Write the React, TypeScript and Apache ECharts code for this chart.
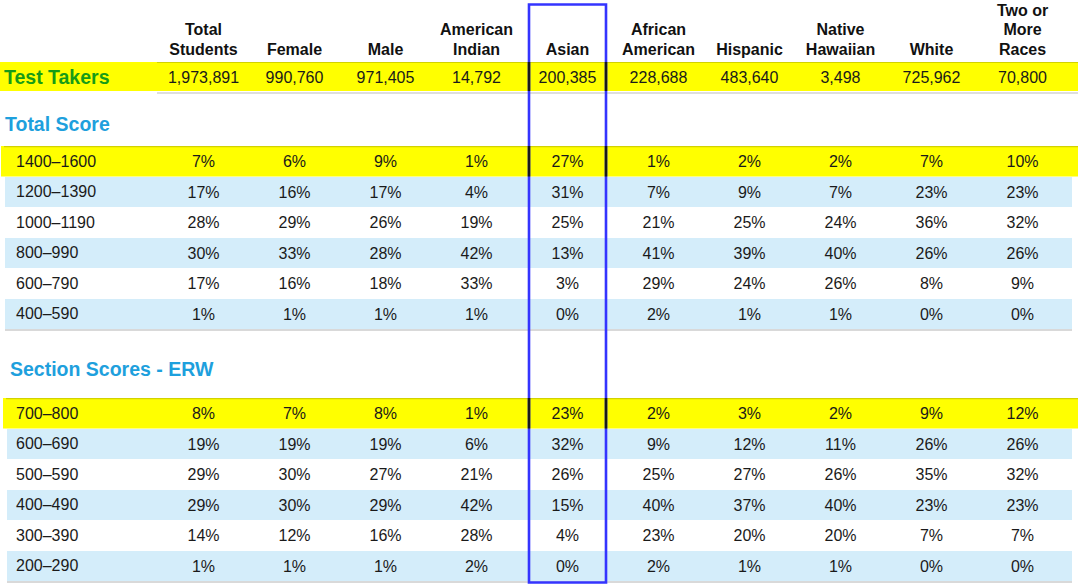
import React, { useEffect, useRef } from "react";
import * as echarts from "echarts";

// ---------- data ----------
const columns = [
  "Total\nStudents",
  "Female",
  "Male",
  "American\nIndian",
  "Asian",
  "African\nAmerican",
  "Hispanic",
  "Native\nHawaiian",
  "White",
  "Two or\nMore\nRaces",
];
const testTakersLabel = "Test Takers";
const testTakers = [1973891, 990760, 971405, 14792, 200385, 228688, 483640, 3498, 725962, 70800];

const totalScoreTitle = "Total Score";
const totalScoreBands = ["1400–1600", "1200–1390", "1000–1190", "800–990", "600–790", "400–590"];
const totalScorePct = [
  [7, 6, 9, 1, 27, 1, 2, 2, 7, 10],
  [17, 16, 17, 4, 31, 7, 9, 7, 23, 23],
  [28, 29, 26, 19, 25, 21, 25, 24, 36, 32],
  [30, 33, 28, 42, 13, 41, 39, 40, 26, 26],
  [17, 16, 18, 33, 3, 29, 24, 26, 8, 9],
  [1, 1, 1, 1, 0, 2, 1, 1, 0, 0],
];

const erwTitle = "Section Scores - ERW";
const erwBands = ["700–800", "600–690", "500–590", "400–490", "300–390", "200–290"];
const erwPct = [
  [8, 7, 8, 1, 23, 2, 3, 2, 9, 12],
  [19, 19, 19, 6, 32, 9, 12, 11, 26, 26],
  [29, 30, 27, 21, 26, 25, 27, 26, 35, 32],
  [29, 30, 29, 42, 15, 40, 37, 40, 23, 23],
  [14, 12, 16, 28, 4, 23, 20, 20, 7, 7],
  [1, 1, 1, 2, 0, 2, 1, 1, 0, 0],
];
const highlightColumn = "Asian";

// ---------- styles ----------
const FONT = '"Liberation Sans", Arial, Helvetica, sans-serif';
const YELLOW = "#ffff00";
const LIGHTBLUE = "#d4edfa";
const GREEN = "#179c17";
const TITLEBLUE = "#1ea0dd";
const TEXT = "#1a1a1a";
const GRID_LEFT = 158;
const GRID_WIDTH = 910;
const ROW_H = 30.5;
const G0_TOP = 62;
const G0_H = 29;
const G1_TOP = 146;
const G2_TOP = 398;

function bgSeries(gridIndex: number, n: number, isTakers: boolean) {
  return {
    type: "custom",
    xAxisIndex: gridIndex,
    yAxisIndex: gridIndex,
    silent: true,
    data: Array.from({ length: n }, (_, i) => [0, i]),
    encode: { x: 0, y: 1 },
    z: 1,
    renderItem: (params: any, api: any) => {
      const i = api.value(1);
      const cs = params.coordSys;
      const h = cs.height / n;
      const top = cs.y + i * h;
      const children: any[] = [];
      if (isTakers) {
        children.push({
          type: "rect",
          shape: { x: 0, y: top, width: cs.x + cs.width + 10, height: h },
          style: { fill: YELLOW },
        });
        children.push({
          type: "line",
          shape: { x1: cs.x - 1, y1: top + 0.5, x2: cs.x + cs.width + 10, y2: top + 0.5 },
          style: { stroke: "#d2d200", lineWidth: 1.2 },
        });
        children.push({
          type: "line",
          shape: { x1: cs.x - 1, y1: top + h + 2, x2: cs.x + cs.width + 10, y2: top + h + 2 },
          style: { stroke: "#dedede", lineWidth: 2 },
        });
        return { type: "group", children };
      }
      const lx = gridIndex === 1 ? 1 : 3;
      if (i === 0) {
        children.push({
          type: "rect",
          shape: { x: lx, y: top, width: cs.x + cs.width + 10 - lx, height: h },
          style: { fill: YELLOW },
        });
        children.push({
          type: "line",
          shape: { x1: lx + 3, y1: top + 0.6, x2: cs.x + cs.width + 10, y2: top + 0.6 },
          style: { stroke: "#d2d200", lineWidth: 1.2 },
        });
      } else if (i % 2 === 1) {
        children.push({
          type: "rect",
          shape: { x: lx + 4, y: top + 0.5, width: cs.x + cs.width + 4 - (lx + 4), height: h - 0.5 },
          style: { fill: LIGHTBLUE },
        });
      }
      if (i === n - 1) {
        children.push({
          type: "line",
          shape: { x1: lx + 4, y1: top + h + 1, x2: cs.x + cs.width + 4, y2: top + h + 1 },
          style: { stroke: "#d9d9d9", lineWidth: 2 },
        });
      }
      return { type: "group", children };
    },
  };
}

function textSeries(gridIndex: number, texts: string[][]) {
  const data: number[][] = [];
  const flat: string[] = [];
  texts.forEach((row, r) =>
    row.forEach((t, c) => {
      data.push([c, r]);
      flat.push(t);
    })
  );
  return {
    type: "custom",
    xAxisIndex: gridIndex,
    yAxisIndex: gridIndex,
    silent: true,
    z: 5,
    data,
    encode: { x: 0, y: 1 },
    renderItem: (params: any, api: any) => {
      const p = api.coord([api.value(0), api.value(1)]);
      return {
        type: "text",
        style: {
          text: flat[params.dataIndex],
          x: p[0],
          y: p[1] + 0.5,
          align: "center",
          verticalAlign: "middle",
          fontFamily: FONT,
          fontSize: 16,
          fill: TEXT,
        },
      };
    },
  };
}

const pct = (rows: number[][]) => rows.map((r) => r.map((v) => `${v}%`));

export default function App() {
  const ref = useRef<HTMLDivElement>(null);
  useEffect(() => {
    const chart = echarts.init(ref.current!, null, { renderer: "svg" });
    const hiddenX = (i: number) => ({
      type: "category",
      gridIndex: i,
      data: columns,
      show: false,
    });
    const yAx = (i: number, data: string[], label: any) => ({
      type: "category",
      gridIndex: i,
      data,
      inverse: true,
      z: 20,
      axisLine: { show: false },
      axisTick: { show: false },
      splitLine: { show: false },
      axisLabel: { align: "left", interval: 0, fontFamily: FONT, ...label },
    });
    chart.setOption({
      animation: false,
      backgroundColor: "#ffffff",
      grid: [
        { left: GRID_LEFT, width: GRID_WIDTH, top: G0_TOP, height: G0_H },
        { left: GRID_LEFT, width: GRID_WIDTH, top: G1_TOP, height: ROW_H * totalScoreBands.length },
        { left: GRID_LEFT, width: GRID_WIDTH, top: G2_TOP, height: ROW_H * erwBands.length },
      ],
      xAxis: [
        {
          type: "category",
          gridIndex: 0,
          data: columns,
          position: "top",
          z: 20,
          axisLine: { show: false },
          axisTick: { show: false },
          splitLine: { show: false },
          axisLabel: {
            interval: 0,
            margin: 3,
            fontFamily: FONT,
            fontWeight: "bold",
            fontSize: 16,
            lineHeight: 19.5,
            color: "#111111",
          },
        },
        hiddenX(1),
        hiddenX(2),
      ],
      yAxis: [
        yAx(0, [testTakersLabel], { margin: 154, fontSize: 19.5, fontWeight: "bold", color: GREEN }),
        yAx(1, totalScoreBands, { margin: 142, fontSize: 16, color: TEXT }),
        yAx(2, erwBands, { margin: 142, fontSize: 16, color: TEXT }),
      ],
      graphic: [
        {
          id: "t1",
          type: "text",
          left: 5,
          top: 114,
          style: { text: totalScoreTitle, fontFamily: FONT, fontSize: 19.5, fontWeight: "bold", fill: TITLEBLUE },
        },
        {
          id: "t2",
          type: "text",
          left: 10,
          top: 359,
          style: { text: erwTitle, fontFamily: FONT, fontSize: 19.5, fontWeight: "bold", fill: TITLEBLUE },
        },
      ],
      series: [
        bgSeries(0, 1, true),
        bgSeries(1, totalScoreBands.length, false),
        bgSeries(2, erwBands.length, false),
        textSeries(0, [testTakers.map((v) => v.toLocaleString("en-US"))]),
        textSeries(1, pct(totalScorePct)),
        textSeries(2, pct(erwPct)),
      ],
    });

    const cx = chart.convertToPixel({ xAxisIndex: 0 }, highlightColumn) as unknown as number;
    const halfW = 38.5;
    const x1 = cx - halfW;
    const x2 = cx + halfW;
    const yellowBands = [
      [G0_TOP, G0_TOP + G0_H],
      [G1_TOP, G1_TOP + ROW_H],
      [G2_TOP, G2_TOP + ROW_H],
    ];
    const dark: any[] = [];
    yellowBands.forEach(([a, b], k) => {
      [x1, x2].forEach((x, j) =>
        dark.push({
          id: `d${k}_${j}`,
          type: "line",
          z: 101,
          silent: true,
          shape: { x1: x, y1: a, x2: x, y2: b },
          style: { stroke: "#1a1a1a", lineWidth: 2.5 },
        })
      );
    });
    chart.setOption({
      graphic: [
        {
          id: "box",
          type: "rect",
          z: 100,
          silent: true,
          shape: { x: x1, y: 4.5, width: x2 - x1, height: 578 },
          style: { fill: "none", stroke: "#3434ff", lineWidth: 2.6 },
        },
        ...dark,
      ],
    });

    return () => chart.dispose();
  }, []);
  return (
    <div
      ref={ref}
      style={{ position: "absolute", left: 0, top: 0, width: 1080, height: 586 }}
    />
  );
}
